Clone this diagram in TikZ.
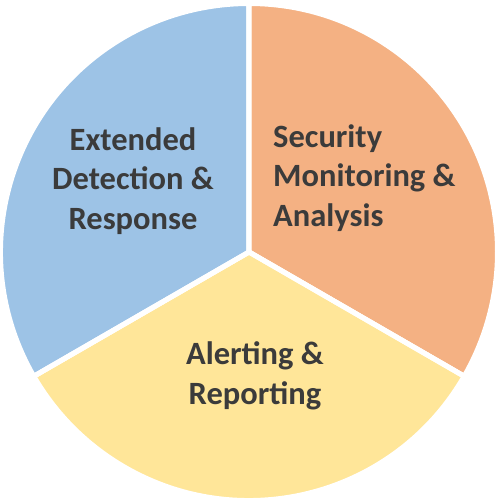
\documentclass[tikz,border=0pt]{standalone}
\usepackage{fontspec}
\setmainfont{Carlito}
\usepackage{xcolor}
\usepackage{tikz}

\definecolor{xdrblue}{HTML}{9DC3E6}
\definecolor{smaorange}{HTML}{F4B183}
\definecolor{aryellow}{HTML}{FFE699}
\definecolor{labelgray}{HTML}{3B3B3B}

\tikzset{
  sector/.style={draw=white, line width=5pt, line join=round},
  label/.style={text=labelgray, font=\fontsize{32.5}{39.5}\selectfont\bfseries, inner sep=0pt}
}

\begin{document}
\begin{tikzpicture}[x=1pt, y=1pt]
\useasboundingbox (-249,-249) rectangle (249,252);
\coordinate (C) at (0,0);
% the three sectors
\fill[sector, fill=smaorange] (C) -- (90:248.5) arc (90:-30:248.5) -- cycle;
\fill[sector, fill=aryellow] (C) -- (-30:248.5) arc (-30:-150:248.5) -- cycle;
\fill[sector, fill=xdrblue] (C) -- (210:248.5) arc (210:90:248.5) -- cycle;
\draw[sector] (C) -- (90:248.5) (C) -- (-30:248.5) (C) -- (210:248.5);
% labels
\node[label, align=center] (xdr) at (-116,71) {Extended\\Detection \&\\Response};
\node[label, align=left, anchor=west] (sma) at (24,74) {Security\\Monitoring \&\\Analysis};
\node[label, align=center] (alert) at (6,-124) {Alerting \&\\Reporting};
\end{tikzpicture}
\end{document}
